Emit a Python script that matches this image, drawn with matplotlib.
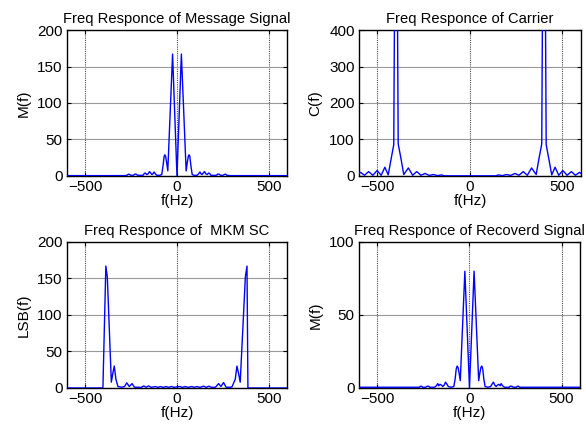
import matplotlib.pyplot as plt
import numpy as np

# spectra (Hz, magnitude)
f_msg = [-600, -290, -272, -265, -258, -250, -238, -230, -222, -215, -200,
         -185, -178, -172, -165, -157, -150, -143, -137, -131, -125, -118,
         -110, -95, -83, -76, -70, -66, -62, -56, -50, -24, 0,
         24, 50, 56, 62, 66, 70, 76, 83, 95, 110, 118, 125, 131, 137, 143,
         150, 157, 165, 172, 178, 185, 200, 215, 222, 230, 238, 250, 258,
         265, 272, 290, 600]
m_msg = [0.5, 0.5, 1, 2.5, 2, 0.8, 1, 2.5, 2.5, 1, 0.8,
         1, 3.5, 4, 2, 3, 6, 4, 2, 3, 5.5, 3,
         1, 0.8, 2, 14, 27, 29, 27, 18, 7, 167, 0,
         167, 7, 18, 27, 29, 27, 14, 2, 0.8, 1, 3, 5.5, 3, 2, 4,
         6, 3, 2, 4, 3.5, 1, 0.8, 1, 2.5, 2.5, 1, 0.8, 2,
         2.5, 1, 0.5, 0.5]

f_car = [-600, -592, -570, -548, -525, -502, -480, -460, -442, -428, -412,
         -400, -388, -372, -358, -333, -310, -288, -265, -243, -220, -198,
         -175, -153, -140,
         140, 153, 175, 198, 220, 243, 265, 288, 310, 333, 358, 372, 388,
         400, 412, 428, 442, 460, 480, 502, 525, 548, 570, 592, 600]
c_car = [7, 10, 2, 12, 2, 15, 2, 24, 3, 42, 86,
         1200, 88, 45, 4, 22, 2, 12, 2, 7, 1.5, 4,
         1, 3, 0.5,
         0.5, 3, 1, 4, 1.5, 7, 2, 12, 2, 22, 4, 45, 88,
         1200, 86, 42, 3, 24, 2, 15, 2, 12, 2, 10, 7]

f_lsb = [-600, -404, -388, -380, -358, -350, -342, -333, -322, -300, -286,
         -274, -260, -245, -232, -215, -195, -182, -168, -155, -140, -118,
         -105, -91, -75, -60, -46, -30, -15, 0,
         15, 30, 45, 60, 82, 95, 109, 125, 145, 160, 173, 190, 210, 227,
         240, 254, 268, 290, 300, 318, 327, 336, 345, 373, 382, 387, 600]
m_lsb = [0, 0, 167, 152, 8, 20, 30, 12, 2, 1, 2,
         7, 2, 6, 1, 1, 0.8, 2.8, 1, 2.8, 0.8, 2,
         0.8, 2, 0.8, 2, 0.8, 2, 0.8, 1.5,
         2, 0.8, 2, 0.8, 2, 0.8, 2, 0.8, 2.5, 0.8, 2.5, 0.8, 1, 6,
         2, 7.5, 1, 1, 1.5, 12, 30, 20, 8, 152, 167, 0, 0]

f_rec = [-600, -290, -272, -266, -260, -255, -238, -230, -222, -215, -190,
         -180, -172, -167, -160, -152, -145, -137, -130, -122, -115, -100,
         -85, -78, -72, -67, -62, -56, -50, -25, 0,
         25, 50, 56, 62, 67, 72, 78, 85, 100, 115, 122, 130, 137, 145, 152,
         160, 167, 172, 180, 190, 215, 222, 230, 238, 255, 260, 266, 272,
         290, 600]
m_rec = [0.5, 0.5, 0.5, 1.2, 1.2, 0.5, 0.5, 1.2, 1.2, 0.5, 0.5,
         1.5, 3, 1.5, 2.5, 2, 1, 2, 4, 2.5, 1, 0.5,
         1, 6, 13, 15, 14, 10, 5, 80, 0,
         80, 5, 10, 14, 15, 13, 6, 1, 0.5, 1, 2.5, 4, 2, 1, 2,
         2.5, 1.5, 3, 1.5, 0.5, 0.5, 1.2, 1.2, 0.5, 0.5, 1.2, 1.2, 0.5,
         0.5, 0.5]

titles = ['Freq Responce of Message Signal', 'Freq Responce of Carrier',
          'Freq Responce of  MKM SC', 'Freq Responce of Recoverd Signal']
ylabels = ['M(f)', 'C(f)', 'LSB(f)', 'M(f)']
ymax = [200, 400, 200, 100]
ystep = [50, 100, 50, 50]
series = [(f_msg, m_msg), (f_car, c_car), (f_lsb, m_lsb), (f_rec, m_rec)]

plt.rcParams['font.family'] = ['Liberation Sans', 'DejaVu Sans']
plt.rcParams['font.size'] = 11

fig = plt.figure(figsize=(5.86, 4.28), dpi=100)
rects = [[0.1143, 0.5888, 0.3754, 0.3411],
         [0.6126, 0.5888, 0.3788, 0.3411],
         [0.1143, 0.0935, 0.3754, 0.3411],
         [0.6126, 0.0935, 0.3771, 0.3411]]

for i in range(4):
    ax = fig.add_axes(rects[i])
    f, m = series[i]
    ax.plot(f, m, color=(0, 0, 1), lw=1.0, zorder=3)
    ax.set_xlim(-600, 600)
    ax.set_ylim(0, ymax[i])
    ax.set_xticks([-500, 0, 500])
    ax.set_yticks(np.arange(0, ymax[i] + 1, ystep[i]))
    ax.grid(axis='x', color='0.3', ls=(0, (1, 1)), lw=0.8)
    ax.grid(axis='y', color='0.6', ls='-', lw=0.8)
    ax.set_axisbelow(True)
    ax.tick_params(direction='in', length=3, top=True, right=True,
                   labelsize=11, pad=3)
    for s in ax.spines.values():
        s.set_linewidth(1.0)
    ax.set_title(titles[i], fontsize=10.6, pad=5)
    ax.set_ylabel(ylabels[i], labelpad=5)
    ax.set_xlabel('f(Hz)', labelpad=0)

fig.savefig('out.png', dpi=100)
